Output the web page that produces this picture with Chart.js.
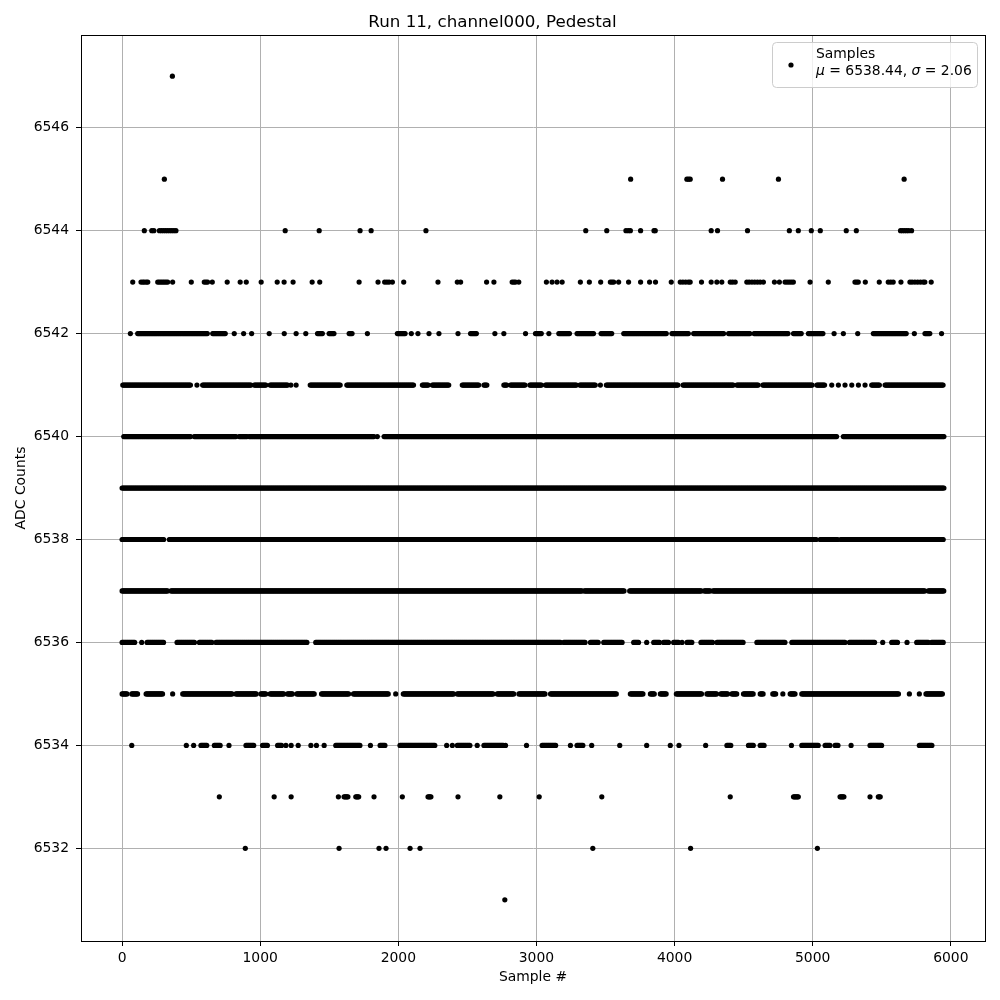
<!DOCTYPE html>
<html>
<head>
<meta charset="utf-8">
<script src="https://cdn.jsdelivr.net/npm/chart.js@4.4.1/dist/chart.umd.min.js"></script>
<style>
  html, body { margin: 0; background: #fff; }
  #wrap { width: 1000px; height: 1000px; }
</style>
</head>
<body>
<div id="wrap"><canvas id="chartPedestal" width="1000" height="1000"></canvas></div>
<script>
// Pedestal samples. A number is one sample index,
// a pair [a, b] is a run of samples that sit on that ADC level.
const adc6531 = [2771];
const adc6532 = [892, 1571, 1860, 1911, 2085, 2157, 3408, 4116, 5034];
const adc6533 = [704, 1101, 1224, 1566, [1607, 1636], [1692, 1716], 1824, 2029, [2215, 2239], 2432, 2735, 3020,
  3473, 4403, [4861, 4897], [5198, 5227], 5415, [5475, 5492]];
const adc6534 = [70, 465, 518, [571, 614], [668, 716], 774, [897, 957], [1017, 1053], [1126, 1154], 1186, 1224, 1275,
  1367, 1407, 1463, [1547, 1728], 1798, [1868, 1909], [2012, 2270], 2350, 2391, [2427, 2523], 2571, [2620, 2764],
  2776, 2928, [3041, 3145], 3246, [3294, 3338], 3400, 3603, 3798, 3969, 4032, 4225, [4379, 4408], [4535, 4572],
  [4620, 4649], 4846, [4921, 5041], [5090, 5126], [5162, 5186], 5278, [5415, 5499], [5772, 5868]];
const adc6535 = [[0, 36], [70, 118], [174, 294], 366, [439, 800], [824, 976], [1005, 1041], [1072, 1174], [1198, 1234],
  [1265, 1395], [1444, 1644], [1675, 1933], 1981, [2036, 2403], [2427, 2692], [2716, 2841], [2873, 3065], [3102, 3584],
  [3680, 3776], [3825, 3853], [3897, 3945], [4013, 4198], [4234, 4307], [4335, 4384], [4415, 4456], [4499, 4572],
  [4620, 4644], [4711, 4735], 4784, [4837, 4873], [4921, 5627], 5700, 5772, [5820, 5945]];
const adc6536 = [[0, 94], 142, [181, 306], [398, 528], [559, 655], [680, 1342], [1402, 3174], [3198, 3355], [3391, 3451],
  [3487, 3620], [3704, 3740], 3798, [3849, 3897], [3921, 3957], [3993, 4029], 4054, [4090, 4126], [4191, 4278],
  [4307, 4499], [4596, 4801], [4849, 5234], [5266, 5451], 5507, [5572, 5620], 5683, [5753, 5837], [5861, 5950]];
const adc6537 = [[0, 330], [354, 3331], [3347, 3637], [3675, 4198], [4215, 4258], [4278, 5813], [5837, 5950]];
const adc6538 = [[0, 301], [342, 5030], [5054, 5186], [5203, 5950]];
const adc6539 = [[0, 5950]];
const adc6540 = [[12, 499], [523, 824], [848, 908], [920, 1824], 1848, [1897, 5174], [5222, 5950]];
const adc6541 = [[5, 499], 542, [583, 933], [957, 1041], [1072, 1198], 1222, 1260, [1362, 1583], [1627, 2114],
  [2174, 2222], [2246, 2366], [2463, 2584], [2620, 2644], [2764, 2788], [2812, 2921], [2952, 3041], [3065, 3294],
  [3314, 3427], 3463, [3506, 4029], [4061, 4427], [4451, 4608], [4639, 5001], [5030, 5090], 5138, 5186, 5234, 5283,
  5331, 5379, [5427, 5487], [5524, 5950]];
const adc6542 = [60, [113, 619], [656, 752], 812, 880, 938, 1065, 1174, 1260, 1330, [1415, 1451], [1499, 1535],
  [1644, 1668], 1776, [1993, 2053], 2094, 2142, 2222, 2294, 2432, [2523, 2567], 2699, 2764, 2921, [2993, 3041], 3090,
  [3162, 3241], [3294, 3415], [3468, 3547], [3632, 3945], [3981, 4102], [4138, 4355], [4391, 4548], [4576, 4825],
  [4861, 4921], [4969, 5078], 5155, 5222, 5326, [5439, 5680], 5736, [5813, 5849], 5933];
const adc6543 = [77, 137, 150, 161, 175, 186, 258, 270, 282, 294, 306, 318, 330, 366, 501, 595, 607, 619, 653, 761,
  855, 899, 1007, 1123, 1173, 1238, 1376, 1431, 1716, 1853, 1901, 1917, 1933, 1957, 2039, 2287, 2427, 2451, 2639,
  2692, 2824, 2836, 2848, 2872, 3072, 3113, 3149, 3186, 3318, 3383, 3465, 3535, 3547, 3559, 3595, 3667, 3754, 3819,
  3862, 3976, 4041, 4060, 4080, 4100, 4113, 4195, 4265, 4306, 4342, 4403, 4420, 4439, 4523, 4540, 4560, 4580, 4600,
  4620, 4643, 4723, 4759, 4800, 4815, 4830, 4845, 4860, 4981, 5113, 5306, 5318, 5330, 5381, 5482, 5547, 5565, 5583,
  5639, 5704, 5720, 5740, 5760, 5780, 5800, 5812, 5858];
const adc6544 = [161, 215, 230, 270, 285, 300, 315, 330, 345, 360, 375, 390, 1181, 1427, 1723, 1803, 2200, 3357,
  3509, 3648, 3665, 3680, 3754, 3851, 3860, 4265, 4311, 4528, 4831, 4896, 4990, 5055, 5243, 5316, 5636, 5650, 5665,
  5680, 5695, 5716];
const adc6545 = [306, 3682, 4089, 4101, 4113, 4347, 4752, 5662];
const adc6547 = [364];

const levelRows = [
  [6531, adc6531], [6532, adc6532], [6533, adc6533], [6534, adc6534], [6535, adc6535], [6536, adc6536],
  [6537, adc6537], [6538, adc6538], [6539, adc6539], [6540, adc6540], [6541, adc6541], [6542, adc6542],
  [6543, adc6543], [6544, adc6544], [6545, adc6545], [6547, adc6547]
];

const xTicks = [0, 1000, 2000, 3000, 4000, 5000, 6000];
const yTicks = [6532, 6534, 6536, 6538, 6540, 6542, 6544, 6546];
const legendLines = ['Samples', '6538.44', '2.06'];

const RUN_STEP = 7; // about one screen pixel of samples

function rowPoints(level, list) {
  const pts = [];
  list.forEach(r => {
    if (Array.isArray(r)) {
      for (let x = r[0]; x <= r[1]; x += RUN_STEP) pts.push({ x, y: level });
    } else {
      pts.push({ x: r, y: level });
    }
  });
  return pts;
}

const samples = levelRows.flatMap(([level, list]) => rowPoints(level, list));

const FONT = "'DejaVu Sans', sans-serif";
Chart.defaults.font.family = FONT;
Chart.defaults.color = '#000';

// full box round the axes, like matplotlib spines
const frame = {
  id: 'frame',
  afterDatasetsDraw(chart) {
    const { ctx, chartArea: a } = chart;
    ctx.save();
    ctx.strokeStyle = '#000';
    ctx.lineWidth = 1;
    ctx.strokeRect(Math.round(a.left) + 0.5, Math.round(a.top) + 0.5,
      Math.round(a.right - a.left), Math.round(a.bottom - a.top));
    ctx.restore();
  }
};

// legend box in the upper right corner
const cornerLegend = {
  id: 'cornerLegend',
  afterDraw(chart) {
    const { ctx } = chart;
    const bx = 772, by = 42, bw = 205, bh = 45, r = 4;
    ctx.save();
    ctx.beginPath();
    ctx.roundRect(bx + 0.5, by + 0.5, bw, bh, r);
    ctx.fillStyle = 'rgba(255,255,255,0.8)';
    ctx.fill();
    ctx.strokeStyle = '#cccccc';
    ctx.lineWidth = 1;
    ctx.stroke();

    ctx.beginPath();
    ctx.arc(791, 65, 2.6, 0, Math.PI * 2);
    ctx.fillStyle = '#000';
    ctx.fill();

    ctx.textBaseline = 'middle';
    ctx.textAlign = 'left';
    const size = 13.9;
    const normal = `${size}px ${FONT}`;
    const italic = `oblique ${size}px ${FONT}`;
    ctx.font = normal;
    ctx.fillText(legendLines[0], 816, 54);

    const parts = [
      [italic, '\u03bc'], [normal, ' = ' + legendLines[1] + ', '],
      [italic, '\u03c3'], [normal, ' = ' + legendLines[2]]
    ];
    let x = 816;
    parts.forEach(([f, t]) => {
      ctx.font = f;
      ctx.fillText(t, x, 71);
      x += ctx.measureText(t).width;
    });
    ctx.restore();
  }
};

new Chart(document.getElementById('chartPedestal'), {
  type: 'scatter',
  data: {
    datasets: [{
      label: 'Samples',
      data: samples,
      backgroundColor: '#000',
      borderWidth: 0,
      pointRadius: 2.6,
      pointHoverRadius: 2.6,
    }]
  },
  options: {
    responsive: false,
    animation: false,
    events: [],
    layout: { padding: { left: 0, right: 15, top: 0, bottom: 0 } },
    plugins: {
      legend: { display: false },
      tooltip: { enabled: false },
      title: {
        display: true,
        text: 'Run 11, channel000, Pedestal',
        color: '#000',
        font: { size: 16.7, weight: 'normal' },
        padding: { top: 13, bottom: 2 }
      }
    },
    scales: {
      x: {
        type: 'linear',
        min: -297.5,
        max: 6247.5,
        afterBuildTicks: s => { s.ticks = xTicks.map(v => ({ value: v })); },
        afterFit: s => { s.height = 59; },
        ticks: { color: '#000', font: { size: 13.9 }, padding: 4, callback: v => String(v) },
        grid: { color: '#b0b0b0', lineWidth: 1, tickColor: '#000', tickLength: 5 },
        border: { display: true, color: '#000' },
        title: { display: true, text: 'Sample #', color: '#000', font: { size: 13.9 }, padding: { top: 0, bottom: 14.6 } }
      },
      y: {
        type: 'linear',
        min: 6530.2,
        max: 6547.8,
        afterBuildTicks: s => { s.ticks = yTicks.map(v => ({ value: v })); },
        afterFit: s => { s.width = 81; },
        ticks: { color: '#000', font: { size: 13.9 }, padding: 7, callback: v => String(v) },
        grid: { color: '#b0b0b0', lineWidth: 1, tickColor: '#000', tickLength: 5 },
        border: { display: true, color: '#000' },
        title: { display: true, text: 'ADC Counts', color: '#000', font: { size: 13.9 }, padding: { top: 12.6, bottom: 0 } }
      }
    }
  },
  plugins: [frame, cornerLegend]
});
</script>
</body>
</html>
